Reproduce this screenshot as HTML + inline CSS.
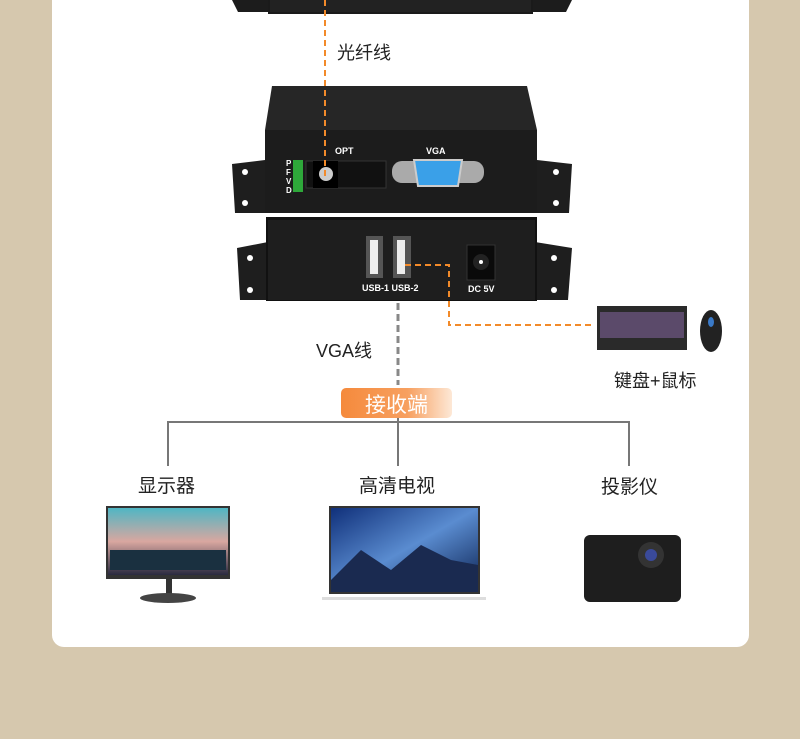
<!DOCTYPE html>
<html><head><meta charset="utf-8"><style>
body{margin:0;width:800px;height:739px;background:#d6c8ae;position:relative;overflow:hidden;font-family:"Liberation Sans","Noto Sans CJK SC",sans-serif}
.a{position:absolute}
.card{left:52px;top:-20px;width:697px;height:667px;background:#fff;border-radius:12px}
.t{color:#222;font-size:19px;white-space:nowrap}
</style></head><body>
<div class="a card"></div>
<svg class="a" style="left:0;top:0" width="800" height="739">
<defs>
<linearGradient id="btn" x1="0" x2="1"><stop offset="0" stop-color="#f58a3c"/><stop offset="0.6" stop-color="#f7a060"/><stop offset="1" stop-color="#fde8d6"/></linearGradient>
<linearGradient id="sky" x1="0" y1="0" x2="0" y2="1"><stop offset="0" stop-color="#4fb6c4"/><stop offset="0.5" stop-color="#d9a7a0"/><stop offset="1" stop-color="#2a2a40"/></linearGradient>
<linearGradient id="tv" x1="0" y1="0" x2="1" y2="1"><stop offset="0" stop-color="#10307a"/><stop offset="0.5" stop-color="#5a8cd0"/><stop offset="1" stop-color="#0a2050"/></linearGradient>
</defs>
<path d="M232 0h36v12h-30zM533 0h39l-6 12h-33z" fill="#1c1c1c"/>
<rect x="268" y="0" width="265" height="14" fill="#1a1a1a"/>
<rect x="270" y="0" width="261" height="12" fill="#222"/>
<path d="M272 86L527 86 537 130 265 130Z" fill="#262626"/>
<path d="M232 164l33-4v53h-30zM537 160l35 4-3 49h-32z" fill="#1e1e1e"/>
<circle cx="245" cy="172" r="3" fill="#fff"/><circle cx="245" cy="203" r="3" fill="#fff"/>
<circle cx="556" cy="172" r="3" fill="#fff"/><circle cx="556" cy="203" r="3" fill="#fff"/>
<rect x="265" y="130" width="272" height="83" fill="#1c1c1c"/>
<rect x="293" y="160" width="10" height="32" fill="#2ea83a"/>
<rect x="306" y="161" width="80" height="27" fill="#111" stroke="#333"/>
<rect x="313" y="161" width="25" height="27" fill="#000"/>
<circle cx="326" cy="174" r="7" fill="#ccc"/>
<rect x="392" y="161" width="92" height="22" rx="10" fill="#aaa"/>
<path d="M414 160h48l-4 26h-40z" fill="#3aa0e8" stroke="#ccc" stroke-width="2"/>
<path d="M237 248l31-6v58h-28zM535 242l37 6-4 52h-33z" fill="#1e1e1e"/>
<circle cx="250" cy="258" r="3" fill="#fff"/><circle cx="250" cy="290" r="3" fill="#fff"/>
<circle cx="554" cy="258" r="3" fill="#fff"/><circle cx="554" cy="290" r="3" fill="#fff"/>
<rect x="266" y="217" width="271" height="84" fill="#111"/>
<rect x="268" y="220" width="267" height="80" fill="#1e1e1e"/>
<rect x="366" y="236" width="17" height="42" fill="#555"/><rect x="370" y="240" width="8" height="34" fill="#eee"/>
<rect x="393" y="236" width="18" height="42" fill="#555"/><rect x="397" y="240" width="8" height="34" fill="#eee"/>
<rect x="467" y="245" width="28" height="35" fill="#0a0a0a" stroke="#333"/>
<circle cx="481" cy="262" r="8" fill="#222"/><circle cx="481" cy="262" r="2" fill="#fff"/>
<g fill="#fff" font-size="9" font-family="Liberation Sans" font-weight="bold">
<text x="362" y="291">USB-1 USB-2</text><text x="468" y="292">DC 5V</text>
<text x="335" y="154">OPT</text><text x="426" y="154">VGA</text>
<text x="286" y="166" font-size="8">P</text><text x="286" y="175" font-size="8">F</text><text x="286" y="184" font-size="8">V</text><text x="286" y="193" font-size="8">D</text>
</g>
<g fill="none" stroke="#f28a2a" stroke-width="2" stroke-dasharray="6,4">
<path d="M325 0V180"/><path d="M405 265H449V325H595"/>
</g>
<path d="M398 303V385" stroke="#888" stroke-width="3" stroke-dasharray="7,4"/>
<path d="M168 466V422H629V466M398 417V466" fill="none" stroke="#777" stroke-width="2"/>
<rect x="341" y="388" width="111" height="30" rx="5" fill="url(#btn)"/>
<path d="M597 306h90v44h-90z" fill="#2a2a2a"/>
<rect x="600" y="312" width="84" height="26" fill="#5b4a6a"/>
<ellipse cx="711" cy="331" rx="11" ry="21" fill="#222"/><ellipse cx="711" cy="322" rx="3" ry="5" fill="#3a7ac8"/>
<rect x="106" y="506" width="124" height="73" fill="#333"/>
<rect x="108" y="508" width="120" height="67" fill="url(#sky)"/>
<rect x="110" y="550" width="116" height="20" fill="#1a3040"/>
<rect x="166" y="579" width="6" height="17" fill="#333"/>
<ellipse cx="168" cy="598" rx="28" ry="5" fill="#444"/>
<rect x="329" y="506" width="151" height="88" fill="#333"/>
<rect x="331" y="508" width="147" height="84" fill="url(#tv)"/>
<path d="M331 580l30-30 30 20 30-25 30 15 27 5v27H331z" fill="#1a2a50"/>
<rect x="322" y="597" width="164" height="3" fill="#ddd"/>
<rect x="584" y="535" width="97" height="67" rx="6" fill="#1e1e1e"/>
<circle cx="651" cy="555" r="13" fill="#333"/><circle cx="651" cy="555" r="6" fill="#3a4a9a"/>
</svg>
<div class="a t" style="left:337px;top:39px;font-size:18px">光纤线</div>
<div class="a t" style="left:316px;top:337px;font-size:18px">VGA线</div>
<div class="a t" style="left:614px;top:367px;font-size:18px">键盘+鼠标</div>
<div class="a" style="left:341px;top:389px;width:111px;text-align:center;color:#fff;font-size:21px">接收端</div>
<div class="a t" style="left:138px;top:471px">显示器</div>
<div class="a t" style="left:359px;top:471px">高清电视</div>
<div class="a t" style="left:601px;top:472px">投影仪</div>
</body></html>
